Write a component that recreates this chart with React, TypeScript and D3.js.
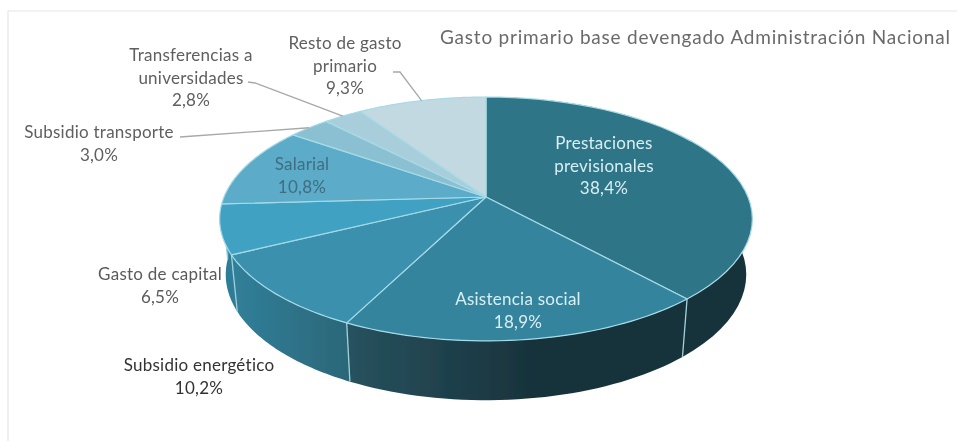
import React from "react";
import * as d3 from "d3";

const categories = ["Prestaciones previsionales", "Asistencia social", "Subsidio energético", "Gasto de capital", "Salarial", "Subsidio transporte", "Transferencias a universidades", "Resto de gasto primario"];
const shares = [38.4, 18.9, 10.2, 6.5, 10.8, 3.0, 2.8, 9.3];
const shareLabels = ["38,4%", "18,9%", "10,2%", "6,5%", "10,8%", "3,0%", "2,8%", "9,3%"];
const topColors = ["#2f7488", "#36849e", "#3a90ae", "#41a1c2", "#5cacc9", "#8bc0d3", "#a9cedb", "#c2d9e1"];
const sideFrom = ["#18323b", "#27525f", "#30809a", "#307f99", "#3f96b2", "#6aa5b8", "#8ab3c0", "#a2bcc5"];
const sideTo = ["#18323b", "#18323b", "#2c6779", "#2e7c95", "#3f96b2", "#6aa5b8", "#8ab3c0", "#a2bcc5"];
const titleText = "Gasto primario base devengado Administración Nacional";

// Label layout: lines, centre x, first baseline, colour
const labelLayout: [string[], number, number, string][] = [
  [["Prestaciones", "previsionales", "38,4%"], 604, 149, "#d9eff3"],
  [["Asistencia social", "18,9%"], 518, 305, "#d9eff3"],
  [["Subsidio energético", "10,2%"], 199, 371, "#333333"],
  [["Gasto de capital", "6,5%"], 160, 280, "#5a5a5a"],
  [["Salarial", "10,8%"], 302, 170, "#3f6d80"],
  [["Subsidio transporte", "3,0%"], 99, 138, "#5f5f5f"],
  [["Transferencias a", "universidades", "2,8%"], 191, 61, "#5f5f5f"],
  [["Resto de gasto", "primario", "9,3%"], 345, 49, "#5f5f5f"],
];
const leaderElbows: Record<number, [number, number][]> = {
  5: [[180, 137]],
  6: [[248, 82], [255, 83]],
  7: [[393, 72], [400, 72]],
};

const W = 957, H = 441;
const x0 = 486, y0 = 197, k = 0.18;
const xTop = d3.scaleLinear().domain([-1, 1]).range([x0 - 262, x0 + 262]);
const yTop = d3.scaleLinear().domain([-1, 1]).range([y0 - 118, y0 + 118]);
const xBot = d3.scaleLinear().domain([-1, 1]).range([x0 - 256, x0 + 256]);
const yBot = d3.scaleLinear().domain([-1, 1]).range([252 - 121.5, 252 + 121.5]);

type P = [number, number];
const proj = (a: number, xs: any, ys: any): P => {
  const u = Math.sin(a), v = -Math.cos(a), w = 1 - k * v;
  return [xs(u / w), ys(v / w)];
};
const top = (a: number) => proj(a, xTop, yTop);
const bot = (a: number) => proj(a, xBot, yBot);
const line = d3.line();
const arcs = d3.pie<number>().sort(null).value((d) => d)(shares);
const samples = (s: number, e: number) => d3.range(0, 41).map((i) => s + ((e - s) * i) / 40);

export default function App() {
  return (
    <svg width={W} height={H} viewBox={`0 0 ${W} ${H}`} style={{ position: "absolute", left: 0, top: 0, background: "#fff" }} fontFamily="Lato, 'Open Sans', sans-serif">
      <defs>
        <filter id="soft" x="-2%" y="-2%" width="104%" height="104%">
          <feGaussianBlur stdDeviation="0.55" />
        </filter>
        {arcs.map((d, i) => {
          const ang = samples(d.startAngle, d.endAngle);
          const xs = ang.map((a) => top(a)[0]);
          const a = d3.max(xs)!, b = d3.min(xs)!;
          return (
            <linearGradient key={i} id={`side${i}`} gradientUnits="userSpaceOnUse" x1={b} x2={a} y1="0" y2="0">
              <stop offset="0" stopColor={sideFrom[i]} />
              <stop offset={i === 1 ? 0.55 : 1} stopColor={sideTo[i]} />
            </linearGradient>
          );
        })}
      </defs>
      <g filter="url(#soft)">
        <path d={line([[8, H], [8, 11], [W, 11]])!} fill="none" stroke="#e6e6e6" strokeWidth={1.2} />
        {arcs.map((d, i) => {
          const ang = samples(d.startAngle, d.endAngle);
          const poly = [...ang.map(top), ...ang.slice().reverse().map(bot)];
          return <path key={i} d={line(poly)! + "Z"} fill={`url(#side${i})`} />;
        })}
        {arcs.map((d, i) => (
          <path key={i} d={line([top(d.startAngle), bot(d.startAngle)])!} stroke="#9fd0dc" strokeWidth={1.3} fill="none"
            opacity={i === 0 || i > 4 ? 0 : 1} />
        ))}
        {arcs.map((d, i) => {
          const ang = samples(d.startAngle, d.endAngle);
          return (
            <path key={i} d={line([[x0, y0], ...ang.map(top)])! + "Z"} fill={topColors[i]} stroke="#a5dbe8" strokeWidth={1.2} strokeLinejoin="round" />
          );
        })}
        {arcs.map((d, i) => {
          const elbows = leaderElbows[i];
          if (!elbows) return null;
          return <path key={i} d={line([...elbows, top((d.startAngle + d.endAngle) / 2)])!} fill="none" stroke="#a8a8a8" strokeWidth={1.3} />;
        })}
        <text x={440} y={44} fontSize={19} fill="#6a6a6a" letterSpacing={0.78}>{titleText}</text>
        {labelLayout.map(([lines, cx, by, col], i) => (
          <text key={i} textAnchor="middle" fontSize={17} fill={col} letterSpacing={0.25} aria-label={categories[i] + " " + shareLabels[i]}>
            {lines.map((l, j) => (
              <tspan key={j} x={cx} y={by + j * 22.5}>{l}</tspan>
            ))}
          </text>
        ))}
      </g>
    </svg>
  );
}
